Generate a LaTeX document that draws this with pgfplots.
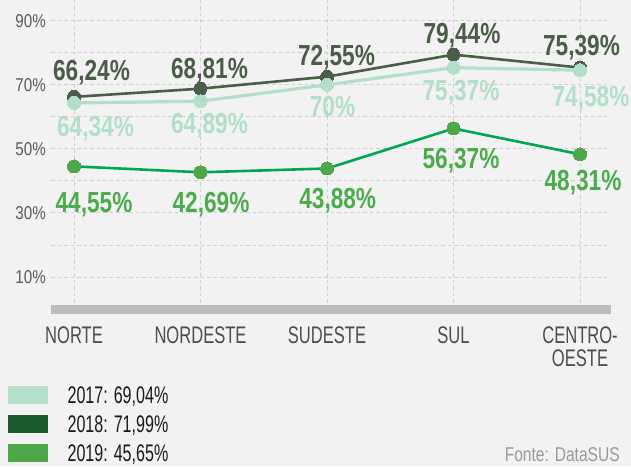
\documentclass[border=0pt]{standalone}
\usepackage{fontspec}
\setmainfont{Liberation Sans}
\newfontfamily\labfont{Liberation Sans}[FakeStretch=0.78]
\newfontfamily\tickfont{Liberation Sans}[FakeStretch=0.82]
\newfontfamily\catfont{Liberation Sans}[FakeStretch=0.69]
\newfontfamily\legfont{Liberation Sans}[FakeStretch=0.67]
\newfontfamily\srcfont{Liberation Sans}[FakeStretch=0.78]
\usepackage{pgfplots}
\usepackage{pgfplotstable}
\pgfplotsset{compat=1.18}

\definecolor{bg}{HTML}{F2F2F2}
\definecolor{gridc}{HTML}{CFCFCF}
\definecolor{basec}{HTML}{BCBCBE}
\definecolor{c17}{HTML}{B3DFCA}
\definecolor{c18}{HTML}{4A5D47}
\definecolor{c19line}{HTML}{00A651}
\definecolor{c19}{HTML}{4EA847}
\definecolor{c19t}{HTML}{4CAB4C}
\definecolor{leg17}{HTML}{B5E0CC}
\definecolor{leg18}{HTML}{1D5A2E}
\definecolor{leg19}{HTML}{4EA84A}
\definecolor{tickc}{HTML}{5A5A5A}
\definecolor{catc}{HTML}{4D4D4D}
\definecolor{legc}{HTML}{1A1A1A}
\definecolor{srcc}{HTML}{9A9A9A}

% 2017
\pgfplotstableread{
x y dx dy lab
0 64.34 21.5 -33.8 64,34
1 64.89 9 -32.1 64,89
2 70 5.5 -31.9 70
3 75.37 7.5 -32.4 75,37
4 74.58 11 -36.6 74,58
}\tabA
% 2018
\pgfplotstableread{
x y dx dy lab
0 66.24 17.5 16.8 66,24
1 68.81 9 10.3 68,81
2 72.55 9.5 11.6 72,55
3 79.44 8.5 11.6 79,44
4 75.39 1.5 12.5 75,39
}\tabB
% 2019
\pgfplotstableread{
x y dx dy lab
0 44.55 20 -46.4 44,55
1 42.69 10.5 -40 42,69
2 43.88 10.7 -39.8 43,88
3 56.37 7.5 -39.6 56,37
4 48.31 3 -36.4 48,31
}\tabC

\begin{document}
\begin{tikzpicture}
\useasboundingbox (0pt,0pt) rectangle (631pt,466pt);
\fill[bg] (0pt,0pt) rectangle (631pt,466pt);
\begin{axis}[
  at={(51pt,157pt)}, anchor=south west,
  scale only axis, width=560pt, height=309pt,
  xmin=-0.182, xmax=4.245, ymin=0, ymax=96.5,
  clip=false,
  axis line style={draw=none},
  major tick length=0pt, minor tick length=0pt,
  xtick={0,1,2,3,4},
  xticklabels={NORTE,NORDESTE,SUDESTE,SUL,{CENTRO-\\OESTE}},
  xticklabel style={font=\catfont\fontsize{24}{23}\selectfont, text=catc, align=center, inner sep=0pt, yshift=-18pt},
  ytick={10,30,50,70,90},
  yticklabels={10\%,30\%,50\%,70\%,90\%},
  minor ytick={20,40,60,80},
  yticklabel style={font=\tickfont\fontsize{18.5}{18.5}\selectfont, text=tickc, inner sep=0pt, xshift=-5pt},
  xmajorgrids, ymajorgrids, yminorgrids,
  major grid style={gridc, dash pattern=on 3.5pt off 3pt, line width=0.9pt},
  minor grid style={gridc, dash pattern=on 3.5pt off 3pt, line width=0.9pt},
  legend style={at={(-0.0768,-0.2492)}, anchor=north west, draw=none, fill=none,
    inner sep=0pt, row sep=11.5pt, column sep=20pt, cells={anchor=west},
    nodes={inner sep=0pt, text depth=0pt},
    font=\legfont\fontsize{24}{24}\selectfont, text=legc},
  nodes near coords={\pgfplotspointmeta\%},
  point meta=explicit symbolic,
]
\draw[basec, line width=9pt] (rel axis cs:0,0) -- (rel axis cs:1,0);

\addplot[forget plot, c18, line width=2.6pt, mark=*, mark size=6.5pt,
  mark options={fill=c18, draw=c18, line width=0pt},
  visualization depends on={\thisrow{dx} \as \dx},
  visualization depends on={\thisrow{dy} \as \dy},
  every node near coord/.append style={anchor=base, xshift=\dx pt, yshift=\dy pt,
    font=\labfont\bfseries\fontsize{29}{29}\selectfont, text=c18, inner sep=0pt}]
  table[x=x, y=y, meta=lab] {\tabB};

\addplot[forget plot, c17, line width=3.2pt, mark=*, mark size=6.5pt,
  mark options={fill=c17, draw=c17, line width=0pt},
  visualization depends on={\thisrow{dx} \as \dx},
  visualization depends on={\thisrow{dy} \as \dy},
  every node near coord/.append style={anchor=base, xshift=\dx pt, yshift=\dy pt,
    font=\labfont\bfseries\fontsize{29}{29}\selectfont, text=c17, inner sep=0pt}]
  table[x=x, y=y, meta=lab] {\tabA};

\addplot[forget plot, c19line, line width=2.6pt, mark=*, mark size=6.5pt,
  mark options={fill=c19, draw=c19, line width=0pt},
  visualization depends on={\thisrow{dx} \as \dx},
  visualization depends on={\thisrow{dy} \as \dy},
  every node near coord/.append style={anchor=base, xshift=\dx pt, yshift=\dy pt,
    font=\labfont\bfseries\fontsize{29}{29}\selectfont, text=c19t, inner sep=0pt}]
  table[x=x, y=y, meta=lab] {\tabC};

\addlegendimage{legend image code/.code={\fill[leg17] (0pt,-8.5pt) rectangle (39pt,8.5pt);}}
\addlegendentry{2017: 69,04\%}
\addlegendimage{legend image code/.code={\fill[leg18] (0pt,-8.5pt) rectangle (39pt,8.5pt);}}
\addlegendentry{2018: 71,99\%}
\addlegendimage{legend image code/.code={\fill[leg19] (0pt,-8.5pt) rectangle (39pt,8.5pt);}}
\addlegendentry{2019: 45,65\%}
\end{axis}
\node[anchor=base east, inner sep=0pt, font=\srcfont\fontsize{20}{20}\selectfont, text=srcc] at (620pt,5pt) {Fonte: DataSUS};
\end{tikzpicture}
\end{document}
